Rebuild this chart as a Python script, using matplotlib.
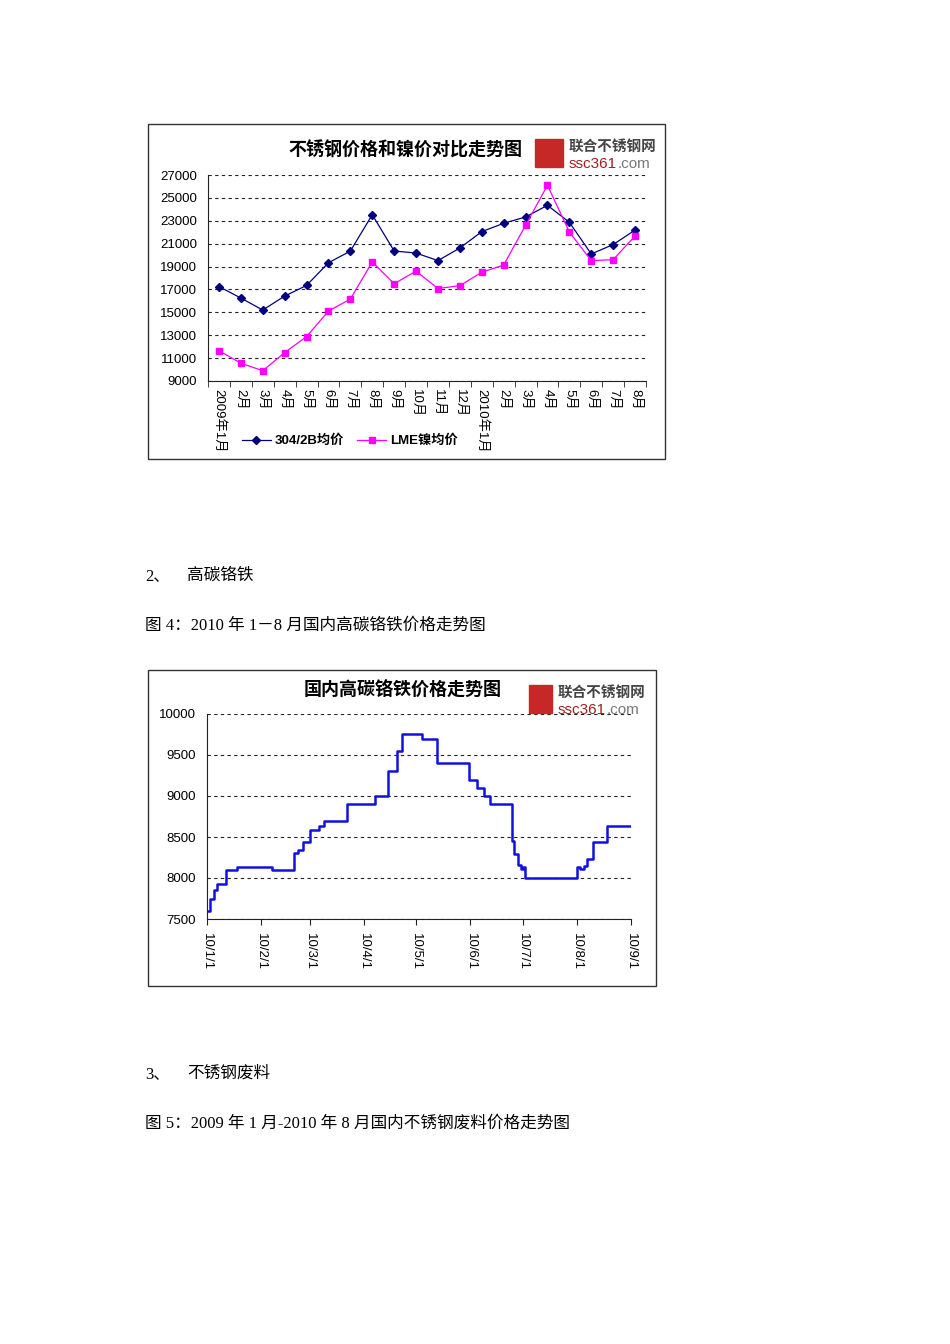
import datetime as dt
import matplotlib.pyplot as plt
import matplotlib.dates as mdates
from matplotlib.patches import Rectangle

# chart 1: 304/2B stainless vs LME nickel, monthly averages
months = ['2009年1月', '2月', '3月', '4月', '5月', '6月', '7月', '8月', '9月', '10月',
          '11月', '12月', '2010年1月', '2月', '3月', '4月', '5月', '6月', '7月', '8月']
steel_304 = [17250, 16250, 15200, 16420, 17350, 19330, 20350, 23530, 20360, 20180,
             19520, 20620, 22050, 22780, 23330, 24350, 22870, 20100, 20920, 22190]
lme_nickel = [11650, 10560, 9900, 11480, 12880, 15110, 16160, 19400, 17500, 18600,
              17080, 17330, 18500, 19130, 22600, 26100, 22020, 19520, 19600, 21670]

# chart 2: domestic high-carbon ferrochrome, daily step prices (date of change, price)
fecr_dates = ['2010-01-01', '2010-01-03', '2010-01-05', '2010-01-07', '2010-01-12',
              '2010-01-18', '2010-02-07', '2010-02-20', '2010-02-22', '2010-02-25',
              '2010-03-01', '2010-03-06', '2010-03-09', '2010-03-22', '2010-04-07',
              '2010-04-15', '2010-04-20', '2010-04-23', '2010-05-04', '2010-05-13',
              '2010-05-31', '2010-06-05', '2010-06-09', '2010-06-12', '2010-06-25',
              '2010-06-26', '2010-06-28', '2010-06-30', '2010-07-01', '2010-07-02',
              '2010-08-01', '2010-08-03', '2010-08-05', '2010-08-07', '2010-08-10',
              '2010-08-18', '2010-09-01']
fecr_price = [7600, 7750, 7850, 7930, 8100, 8130, 8100, 8300, 8340, 8440,
              8590, 8640, 8700, 8900, 9000, 9300, 9550, 9750, 9700, 9400,
              9200, 9100, 9000, 8900, 8450, 8290, 8160, 8110, 8130, 8000,
              8130, 8110, 8150, 8230, 8440, 8640, 8640]
month_ticks = ['2010-01-01', '2010-02-01', '2010-03-01', '2010-04-01', '2010-05-01',
               '2010-06-01', '2010-07-01', '2010-08-01', '2010-09-01']
month_labels = ['10/1/1', '10/2/1', '10/3/1', '10/4/1', '10/5/1',
                '10/6/1', '10/7/1', '10/8/1', '10/9/1']

W, H = 950, 1344
sans = ['Liberation Sans', 'Noto Sans CJK SC']
serif = ['Liberation Serif', 'Noto Sans CJK SC']


def fx(x):
    return x / W


def fy(y):
    return 1 - y / H


def box(x0, y0, x1, y1):
    return [fx(x0), fy(y1), (x1 - x0) / W, (y1 - y0) / H]


fig = plt.figure(figsize=(9.5, 13.44), dpi=100)


def frame(x0, y0, x1, y1):
    fig.patches.append(Rectangle((fx(x0), fy(y1)), (x1 - x0) / W, (y1 - y0) / H,
                                 transform=fig.transFigure, fill=False,
                                 edgecolor='#333333', lw=1.0))


def logo(x, y, w, h):
    # red square + site name
    fig.patches.append(Rectangle((fx(x), fy(y + h)), w / W, h / H,
                                 transform=fig.transFigure, color='#C62828'))
    tx = x + w + 6
    fig.text(fx(tx), fy(y + 8), '联合不锈钢网', family=sans, fontsize=10.5,
             fontweight='bold', color='#444444', va='center')
    fig.text(fx(tx), fy(y + 25), 'ssc361', family=sans, fontsize=11,
             color='#A02020', va='center')
    fig.text(fx(tx + 49), fy(y + 25), '.com', family=sans, fontsize=11,
             color='#777777', va='center')


def style_axes(ax):
    for side in ['top', 'right']:
        ax.spines[side].set_visible(False)
    ax.spines['left'].set_color('#222222')
    ax.spines['bottom'].set_color('#222222')
    ax.yaxis.grid(True, linestyle=(0, (3, 3)), color='#222222', lw=0.8)
    ax.set_axisbelow(True)
    ax.tick_params(axis='y', length=0, labelsize=9.5, pad=8)
    for t in ax.get_yticklabels():
        t.set_family(sans)


# ---------- chart 1 ----------
frame(148, 124, 665, 459)
fig.text(fx(405), fy(150), '不锈钢价格和镍价对比走势图', family=sans, fontsize=13,
         fontweight='bold', ha='center', va='center')
logo(535, 139, 28, 28)

ax1 = fig.add_axes(box(208, 175, 646, 381))
x = list(range(len(months)))
ax1.plot(x, steel_304, color='#000080', marker='D', markersize=4, lw=0.9,
         label='304/2B均价')
ax1.plot(x, lme_nickel, color='#FF00FF', marker='s', markersize=4.5, lw=0.9,
         label='LME镍均价')
ax1.set_xlim(-0.5, len(months) - 0.5)
ax1.set_ylim(9000, 27000)
ax1.set_yticks(range(9000, 27001, 2000))
style_axes(ax1)
ax1.set_xticks(x)
ax1.set_xticklabels(months, rotation=-90, family=sans, fontsize=9.5, va='top')
ax1.set_xticks([i - 0.5 for i in range(len(months) + 1)], minor=True)
ax1.tick_params(axis='x', which='major', length=0, pad=6)
ax1.tick_params(axis='x', which='minor', length=4, direction='out', color='#222222')
ax1.legend(loc='center', bbox_to_anchor=(fx(350), fy(441)),
           bbox_transform=fig.transFigure, ncol=2, frameon=False,
           prop={'family': sans, 'size': 9.5, 'weight': 'bold'},
           handlelength=2.2, columnspacing=1.0, handletextpad=0.3)

# ---------- text ----------
fig.text(fx(145), fy(576), '2、', family=serif, fontsize=12, va='center')
fig.text(fx(187), fy(576), '高碳铬铁', family=serif, fontsize=12, va='center')
fig.text(fx(145), fy(626), '图 4：2010 年 1－8 月国内高碳铬铁价格走势图', family=serif,
         fontsize=12, va='center')
fig.text(fx(145), fy(1074), '3、', family=serif, fontsize=12, va='center')
fig.text(fx(187), fy(1074), '不锈钢废料', family=serif, fontsize=12, va='center')
fig.text(fx(145), fy(1124), '图 5：2009 年 1 月-2010 年 8 月国内不锈钢废料价格走势图',
         family=serif, fontsize=12, va='center')

# ---------- chart 2 ----------
frame(148, 670, 656, 986)
fig.text(fx(403), fy(690), '国内高碳铬铁价格走势图', family=sans, fontsize=13,
         fontweight='bold', ha='center', va='center')
logo(529, 685, 23, 28)

ax2 = fig.add_axes(box(207, 714, 631, 919))
dates = [dt.datetime.strptime(d, '%Y-%m-%d') for d in fecr_dates]
ax2.step(dates, fecr_price, where='post', color='#1010E0', lw=1.8)
ticks = [dt.datetime.strptime(d, '%Y-%m-%d') for d in month_ticks]
ax2.set_xlim(ticks[0], ticks[-1])
ax2.set_ylim(7500, 10000)
ax2.set_yticks(range(7500, 10001, 500))
style_axes(ax2)
ax2.set_xticks(ticks)
ax2.set_xticklabels(month_labels, rotation=-90, family=sans, fontsize=9.5, va='top')
ax2.tick_params(axis='x', length=4, direction='out', color='#222222', pad=6)

fig.savefig('out.png', dpi=100)
